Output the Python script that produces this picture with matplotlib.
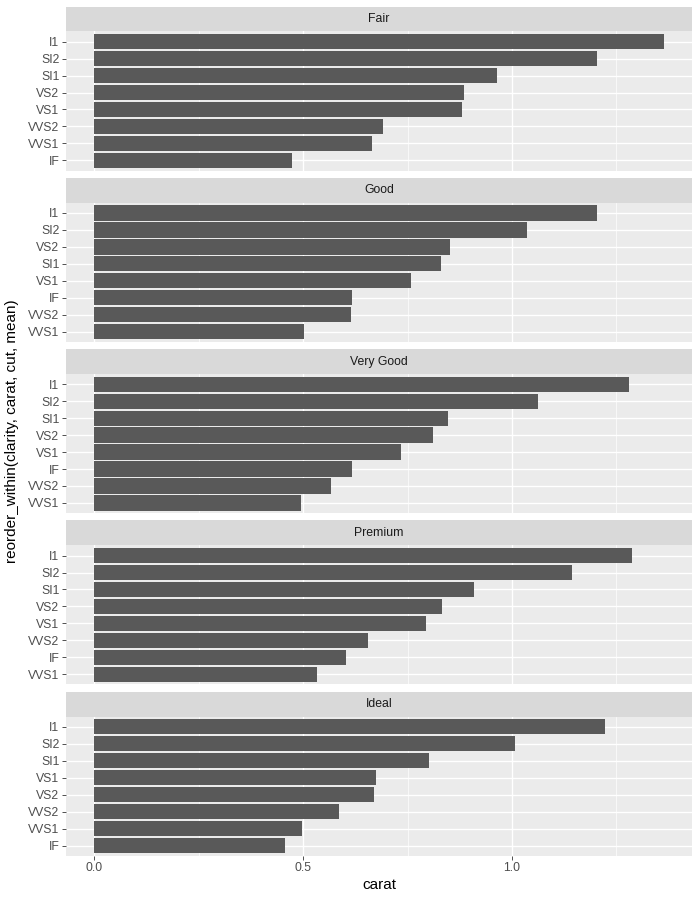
import matplotlib.pyplot as plt
from matplotlib.ticker import MultipleLocator

plt.rcParams['font.family'] = ['Liberation Sans', 'DejaVu Sans']

# mean carat per clarity inside each cut, top bar first
cuts = ['Fair', 'Good', 'Very Good', 'Premium', 'Ideal']
fair_lab = ['I1', 'SI2', 'SI1', 'VS2', 'VS1', 'VVS2', 'VVS1', 'IF']
fair_val = [1.363, 1.203, 0.964, 0.885, 0.880, 0.692, 0.665, 0.474]
good_lab = ['I1', 'SI2', 'VS2', 'SI1', 'VS1', 'IF', 'VVS2', 'VVS1']
good_val = [1.203, 1.036, 0.851, 0.830, 0.758, 0.617, 0.615, 0.502]
vgood_lab = ['I1', 'SI2', 'SI1', 'VS2', 'VS1', 'IF', 'VVS2', 'VVS1']
vgood_val = [1.281, 1.063, 0.846, 0.811, 0.733, 0.618, 0.566, 0.495]
prem_lab = ['I1', 'SI2', 'SI1', 'VS2', 'VS1', 'VVS2', 'IF', 'VVS1']
prem_val = [1.287, 1.144, 0.908, 0.833, 0.793, 0.654, 0.603, 0.533]
ideal_lab = ['I1', 'SI2', 'SI1', 'VS1', 'VS2', 'VVS2', 'VVS1', 'IF']
ideal_val = [1.222, 1.007, 0.801, 0.675, 0.670, 0.586, 0.496, 0.456]

labels = [fair_lab, good_lab, vgood_lab, prem_lab, ideal_lab]
values = [fair_val, good_val, vgood_val, prem_val, ideal_val]

W, H = 700, 900
fig = plt.figure(figsize=(7, 9), dpi=100)

left, right = 66, 692
top0 = 6.5
strip_h = 25
panel_h = 139
gap = 7.3
xmax = max(max(v) for v in values)
xlim = (-0.05 * xmax, 1.05 * xmax)

for i, cut in enumerate(cuts):
    st = top0 + i * (strip_h + panel_h + gap)
    # strip
    sax = fig.add_axes([left / W, 1 - (st + strip_h) / H, (right - left) / W, strip_h / H])
    sax.set_facecolor('#D9D9D9')
    sax.set_xticks([])
    sax.set_yticks([])
    for s in sax.spines.values():
        s.set_visible(False)
    sax.text(0.5, 0.5, cut, ha='center', va='center', fontsize=8.8, color='#1A1A1A',
             transform=sax.transAxes)

    # panel
    pt = st + strip_h
    ax = fig.add_axes([left / W, 1 - (pt + panel_h) / H, (right - left) / W, panel_h / H])
    ax.set_facecolor('#EBEBEB')
    lab = labels[i][::-1]
    val = values[i][::-1]
    ax.barh(lab, val, height=0.9, color='#595959', zorder=3)
    ax.set_ylim(-0.6, len(lab) - 0.4)
    ax.set_xlim(*xlim)
    ax.xaxis.set_major_locator(MultipleLocator(0.5))
    ax.xaxis.set_minor_locator(MultipleLocator(0.25))
    ax.grid(which='major', color='white', linewidth=1.0, zorder=0)
    ax.grid(which='minor', axis='x', color='white', linewidth=0.5, zorder=0)
    ax.set_axisbelow(True)
    for s in ax.spines.values():
        s.set_visible(False)
    ax.tick_params(axis='y', length=2.75, width=0.6, color='#333333', labelsize=8.8,
                   labelcolor='#4D4D4D', pad=2)
    ax.tick_params(axis='x', which='minor', length=0)
    if i < len(cuts) - 1:
        ax.tick_params(axis='x', which='major', length=0, labelbottom=False)
    else:
        ax.tick_params(axis='x', which='major', length=2.75, width=0.6, color='#333333',
                       labelsize=8.8, labelcolor='#4D4D4D', pad=2)
        ax.set_xticks([0.0, 0.5, 1.0])
        ax.set_xticklabels(['0.0', '0.5', '1.0'])
        ax.set_xlabel('carat', fontsize=11, color='black', labelpad=3)

fig.text(12 / W, 1 - 431 / H, 'reorder_within(clarity, carat, cut, mean)', rotation=90,
         ha='center', va='center', fontsize=11, color='black')

fig.savefig('out.png', dpi=100, facecolor='white')
